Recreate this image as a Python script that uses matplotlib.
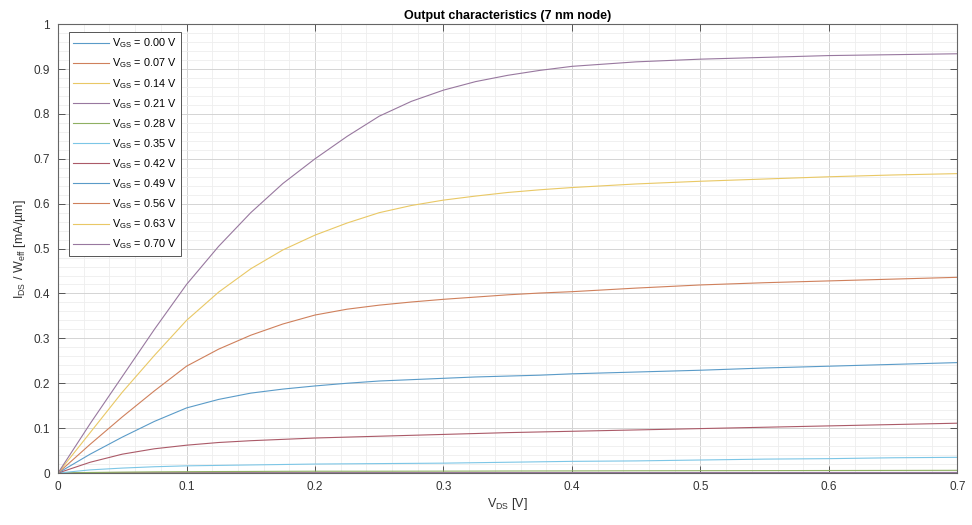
import matplotlib.pyplot as plt
from matplotlib.ticker import MultipleLocator

plt.rcParams['font.family'] = ['Liberation Sans', 'DejaVu Sans']
plt.rcParams['mathtext.fontset'] = 'custom'
plt.rcParams['mathtext.rm'] = 'Liberation Sans'
plt.rcParams['mathtext.it'] = 'Liberation Sans'

# drain voltage sweep (V)
vds = [0.0, 0.025, 0.05, 0.075, 0.1, 0.125, 0.15, 0.175, 0.2, 0.225, 0.25, 0.275,
       0.3, 0.325, 0.35, 0.375, 0.4, 0.45, 0.5, 0.55, 0.6, 0.65, 0.7]

# gate voltages (V)
vgs = [0.00, 0.07, 0.14, 0.21, 0.28, 0.35, 0.42, 0.49, 0.56, 0.63, 0.70]

# drain current per width (mA/um), one list per gate voltage
id_000 = [0, 0, 0, 0, 0, 0, 0, 0, 0, 0, 0, 0, 0, 0, 0, 0, 0, 0, 0, 0, 0, 0, 0]
id_007 = [0, 0.00001, 0.00002, 0.00002, 0.00003, 0.00003, 0.00003, 0.00003, 0.00004, 0.00004, 0.00004, 0.00004,
          0.00004, 0.00004, 0.00005, 0.00005, 0.00005, 0.00005, 0.00005, 0.00006, 0.00006, 0.00006, 0.00006]
id_014 = [0, 0.00005, 0.00008, 0.00009, 0.0001, 0.00011, 0.00012, 0.00012, 0.00013, 0.00013, 0.00013, 0.00014,
          0.00014, 0.00014, 0.00015, 0.00015, 0.00015, 0.00016, 0.00016, 0.00017, 0.00018, 0.00018, 0.00019]
id_021 = [0, 0.0002, 0.0004, 0.0005, 0.0006, 0.00065, 0.0007, 0.00075, 0.0008, 0.00082, 0.00085, 0.00087,
          0.0009, 0.00092, 0.00095, 0.00097, 0.001, 0.00105, 0.0011, 0.00115, 0.0012, 0.00125, 0.0013]
id_028 = [0, 0.0012, 0.002, 0.0026, 0.003, 0.0033, 0.0035, 0.0038, 0.004, 0.004, 0.004, 0.0041,
          0.0042, 0.0043, 0.0045, 0.0046, 0.0047, 0.005, 0.0052, 0.0054, 0.0056, 0.0058, 0.006]
id_035 = [0, 0.007, 0.011, 0.014, 0.016, 0.017, 0.018, 0.019, 0.02, 0.0205, 0.021, 0.0215,
          0.022, 0.023, 0.024, 0.025, 0.026, 0.027, 0.029, 0.031, 0.032, 0.034, 0.035]
id_042 = [0, 0.024, 0.042, 0.054, 0.062, 0.068, 0.072, 0.075, 0.078, 0.08, 0.082, 0.084,
          0.086, 0.088, 0.09, 0.0915, 0.093, 0.096, 0.099, 0.102, 0.105, 0.108, 0.111]
id_049 = [0, 0.042, 0.08, 0.115, 0.145, 0.164, 0.178, 0.187, 0.194, 0.2, 0.205, 0.208,
          0.211, 0.214, 0.216, 0.218, 0.221, 0.225, 0.229, 0.234, 0.238, 0.242, 0.246]
id_056 = [0, 0.064, 0.125, 0.183, 0.238, 0.276, 0.307, 0.332, 0.352, 0.365, 0.374, 0.381,
          0.387, 0.392, 0.397, 0.401, 0.404, 0.412, 0.419, 0.424, 0.428, 0.432, 0.436]
id_063 = [0, 0.09, 0.18, 0.262, 0.34, 0.403, 0.455, 0.497, 0.53, 0.557, 0.58, 0.596,
          0.608, 0.617, 0.625, 0.631, 0.636, 0.644, 0.65, 0.655, 0.66, 0.664, 0.667]
id_070 = [0, 0.11, 0.215, 0.32, 0.42, 0.505, 0.58, 0.645, 0.70, 0.75, 0.795, 0.828,
          0.853, 0.872, 0.886, 0.897, 0.906, 0.916, 0.922, 0.926, 0.93, 0.932, 0.934]

curves = [id_000, id_007, id_014, id_021, id_028, id_035, id_042, id_049, id_056, id_063, id_070]

# matlab default line colours, a bit faded like the screenshot
colors = ['#5a9bc8', '#cf805c', '#e9c865', '#98789f', '#8fb062', '#7cc6e6', '#ab5a68']

fig, ax = plt.subplots(figsize=(9.72, 5.25), dpi=100)
fig.subplots_adjust(left=0.0597, right=0.985, top=0.954, bottom=0.099)

for i, (v, cur) in enumerate(zip(vgs, curves)):
    ax.plot(vds, cur, color=colors[i % len(colors)], lw=0.8,
            label=r'V$_{\mathrm{GS}}$ = %.2f V' % v)

ax.set_xlim(0, 0.7)
ax.set_ylim(0, 1)
ax.set_xticks([0, 0.1, 0.2, 0.3, 0.4, 0.5, 0.6, 0.7])
ax.set_xticklabels(['0', '0.1', '0.2', '0.3', '0.4', '0.5', '0.6', '0.7'])
ax.set_yticks([0, 0.1, 0.2, 0.3, 0.4, 0.5, 0.6, 0.7, 0.8, 0.9, 1])
ax.set_yticklabels(['0', '0.1', '0.2', '0.3', '0.4', '0.5', '0.6', '0.7', '0.8', '0.9', '1'])
ax.xaxis.set_minor_locator(MultipleLocator(0.02))
ax.yaxis.set_minor_locator(MultipleLocator(0.02))

ax.grid(True, which='major', color='#d4d4d4', lw=0.7)
ax.grid(True, which='minor', color='#eeeeee', lw=0.6)
ax.set_axisbelow(True)

ax.tick_params(which='major', direction='in', top=True, right=True, length=5,
               width=0.7, color='#555555', labelsize=8.5, labelcolor='#333333', pad=6)
ax.tick_params(which='minor', length=0)
for s in ax.spines.values():
    s.set_color('#666666')
    s.set_linewidth(0.8)

ax.set_xlabel(r'V$_{\mathrm{DS}}$ [V]', fontsize=9, color='#333333', labelpad=2)
ax.set_ylabel(r'I$_{\mathrm{DS}}$ / W$_{\mathrm{eff}}$ [mA/µm]', fontsize=9, color='#333333', labelpad=4)
ax.set_title('Output characteristics (7 nm node)', fontsize=9, fontweight='bold', pad=4)

leg = ax.legend(loc='upper left', bbox_to_anchor=(0.012, 0.982), fontsize=7.8,
                handlelength=3.3, labelspacing=0.58, borderaxespad=0, fancybox=False,
                framealpha=1, borderpad=0.4, handletextpad=0.3)
leg.get_frame().set_edgecolor('#555555')
leg.get_frame().set_linewidth(0.7)

plt.savefig('out.png', dpi=100)
